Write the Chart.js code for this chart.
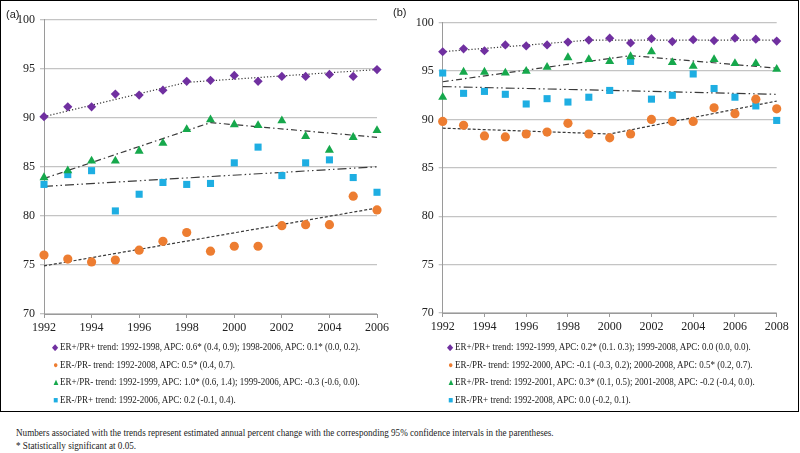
<!DOCTYPE html>
<html>
<head>
<meta charset="utf-8">
<script src="https://cdn.jsdelivr.net/npm/chart.js@4.4.1/dist/chart.umd.min.js"></script>
<style>
  html, body { margin: 0; padding: 0; background: #fff; }
  #page { position: relative; width: 800px; height: 453px; overflow: hidden; font-family: "Liberation Serif", "Times New Roman", serif; color: #222; }
  #frame { position: absolute; left: 0; top: 0; width: 799px; height: 412px; border: 1.5px solid #000; box-sizing: border-box; }
  .panel { position: absolute; top: 0; width: 400px; height: 345px; }
  .tag { position: absolute; font: 11px "Liberation Sans", Arial, sans-serif; color: #222; }
  .legend { position: absolute; top: 338px; font-size: 10px; white-space: nowrap; transform: scaleX(0.9); transform-origin: 0 0; }
  .legend div { height: 17.5px; line-height: 17.5px; }
  .legend .mk { display: inline-block; width: 8px; font-size: 9px; line-height: 10px; text-align: center; margin-right: 1px; }
  .note { position: absolute; left: 16px; top: 427px; font-size: 9.5px; line-height: 12.5px; white-space: nowrap; transform: scaleX(0.96); transform-origin: 0 0; }
</style>
</head>
<body>
<div id="page">
  <div id="frame"></div>
  <div class="panel" style="left:0"><canvas id="chartA" width="400" height="345"></canvas></div>
  <div class="panel" style="left:400px"><canvas id="chartB" width="400" height="345"></canvas></div>
  <div class="tag" style="left:6px;top:8px">(a)</div>
  <div class="tag" style="left:393px;top:6px">(b)</div>
  <div class="legend" id="legendA" style="left:52px"></div>
  <div class="legend" id="legendB" style="left:447px"></div>
  <div class="note">Numbers associated with the trends represent estimated annual percent change with the corresponding 95% confidence intervals in the parentheses.<br>* Statistically significant at 0.05.</div>
</div>
<script>
/* global Chart */

// ---- panel (a): 1992-2006 ----
const yearsA = [1992, 1993, 1994, 1995, 1996, 1997, 1998, 1999, 2000, 2001, 2002, 2003, 2004, 2005, 2006];
const erPosPrPosA = [90.1, 91.1, 91.1, 92.4, 92.3, 92.8, 93.7, 93.8, 94.3, 93.7, 94.2, 94.2, 94.4, 94.2, 94.9];
const erNegPrNegA = [76.0, 75.6, 75.3, 75.5, 76.5, 77.4, 78.3, 76.4, 76.9, 76.9, 79.0, 79.1, 79.1, 82.0, 80.6];
const erPosPrNegA = [83.9, 84.6, 85.6, 85.6, 86.6, 87.4, 88.8, 89.8, 89.3, 89.2, 89.7, 88.1, 86.7, 88.0, 88.7];
const erNegPrPosA = [83.2, 84.2, 84.6, 80.5, 82.2, 83.4, 83.2, 83.3, 85.4, 87.0, 84.1, 85.4, 85.7, 83.9, 82.4];

const trendYearsA = {
  ppos: [1992, 1998, 2006],
  nneg: [1992, 2006],
  pneg: [1992, 1999, 2006],
  npos: [1992, 2006],
};
const trendValuesA = {
  ppos: [90.1, 93.6, 94.9],
  nneg: [74.9, 80.8],
  pneg: [83.8, 89.5, 88.0],
  npos: [83.0, 85.0],
};

// ---- panel (b): 1992-2008 ----
const yearsB = [1992, 1993, 1994, 1995, 1996, 1997, 1998, 1999, 2000, 2001, 2002, 2003, 2004, 2005, 2006, 2007, 2008];
const erPosPrPosB = [97.0, 97.3, 97.1, 97.7, 97.6, 97.7, 98.0, 98.2, 98.4, 97.9, 98.35, 98.05, 98.25, 98.15, 98.4, 98.3, 98.1];
const erNegPrNegB = [89.8, 89.4, 88.3, 88.2, 88.5, 88.7, 89.6, 88.5, 88.1, 88.5, 90.0, 89.8, 89.8, 91.2, 90.6, 92.1, 91.1];
const erPosPrNegB = [92.3, 94.9, 94.9, 94.8, 95.0, 95.4, 96.4, 96.2, 96.0, 96.5, 97.0, 95.9, 95.5, 96.2, 95.8, 95.8, 95.2];
const erNegPrPosB = [94.8, 92.7, 92.9, 92.6, 91.6, 92.15, 91.8, 92.3, 93.0, 96.0, 92.1, 92.5, 94.7, 93.2, 92.3, 91.4, 89.9];

const trendYearsB = {
  ppos: [1992, 1999, 2008],
  nneg: [1992, 2000, 2008],
  pneg: [1992, 2001, 2008],
  npos: [1992, 2008],
};
const trendValuesB = {
  ppos: [97.0, 98.2, 98.2],
  nneg: [89.1, 88.5, 91.9],
  pneg: [93.9, 96.6, 95.3],
  npos: [93.4, 92.6],
};

const legendA = [
  "ER+/PR+ trend: 1992-1998, APC: 0.6* (0.4, 0.9); 1998-2006, APC: 0.1* (0.0, 0.2).",
  "ER-/PR- trend: 1992-2008, APC: 0.5* (0.4, 0.7).",
  "ER+/PR- trend: 1992-1999, APC: 1.0* (0.6, 1.4); 1999-2006, APC: -0.3 (-0.6, 0.0).",
  "ER-/PR+ trend: 1992-2006, APC: 0.2 (-0.1, 0.4).",
];
const legendB = [
  "ER+/PR+ trend: 1992-1999, APC: 0.2* (0.1. 0.3); 1999-2008, APC: 0.0 (0.0, 0.0).",
  "ER-/PR-  trend: 1992-2000, APC: -0.1 (-0.3, 0.2); 2000-2008, APC: 0.5* (0.2, 0.7).",
  "ER+/PR- trend: 1992-2001, APC: 0.3* (0.1, 0.5); 2001-2008, APC: -0.2 (-0.4, 0.0).",
  "ER-/PR+ trend: 1992-2008, APC: 0.0 (-0.2, 0.1).",
];

const PURPLE = "#7030a0";
const ORANGE = "#ed7d31";
const GREEN = "#16a84c";
const CYAN = "#1eaee2";

const markers = [
  { key: "ppos", color: PURPLE, style: "rectRot", radius: 4.6, glyph: "\u25C6", dash: [1.2, 2] },
  { key: "nneg", color: ORANGE, style: "circle", radius: 4.6, glyph: "\u25CF", dash: [3, 2] },
  { key: "pneg", color: GREEN, style: "triangle", radius: 5.2, glyph: "\u25B2", dash: [6, 3, 1.5, 3] },
  { key: "npos", color: CYAN, style: "rect", radius: 5, glyph: "\u25A0", dash: [9, 3, 1.5, 3, 1.5, 3] },
];

function toXY(xs, ys) {
  return xs.map((x, i) => ({ x: x, y: ys[i] }));
}

function buildLegend(el, texts) {
  el.innerHTML = "";
  texts.forEach((t, i) => {
    const row = document.createElement("div");
    const mk = document.createElement("span");
    mk.className = "mk";
    mk.style.color = markers[i].color;
    mk.textContent = markers[i].glyph;
    row.appendChild(mk);
    row.appendChild(document.createTextNode(t));
    el.appendChild(row);
  });
}

function makePanel(canvasId, years, seriesList, trendYears, trendValues, box) {
  const datasets = [];
  markers.forEach((m, i) => {
    datasets.push({
      data: toXY(years, seriesList[i]),
      showLine: false,
      pointStyle: m.style,
      pointRadius: m.radius,
      backgroundColor: m.color,
      borderColor: m.color,
      borderWidth: 0,
      clip: false,
      order: 0,
    });
  });
  markers.forEach((m) => {
    datasets.push({
      data: toXY(trendYears[m.key], trendValues[m.key]),
      showLine: true,
      pointRadius: 0,
      borderColor: "#3a3a3a",
      borderWidth: 1.2,
      borderDash: m.dash,
      fill: false,
      clip: false,
      order: 1,
    });
  });

  const tickFont = { family: "'Liberation Serif', 'Times New Roman', serif", size: 12 };

  return new Chart(document.getElementById(canvasId), {
    type: "scatter",
    data: { datasets: datasets },
    options: {
      responsive: false,
      animation: false,
      layout: { padding: { top: box.top, right: box.right, left: 0, bottom: 0 } },
      plugins: { legend: { display: false }, tooltip: { enabled: false } },
      scales: {
        x: {
          type: "linear",
          min: years[0],
          max: years[years.length - 1],
          afterFit: (s) => { s.height = box.xHeight; },
          ticks: { stepSize: 2, color: "#222", font: tickFont, padding: 3, maxRotation: 0, callback: (v) => String(v) },
          grid: { drawOnChartArea: false, drawTicks: true, tickLength: 4, color: "#9a9a9a" },
          border: { color: "#9a9a9a", width: 1 },
        },
        y: {
          min: 70,
          max: 100,
          afterFit: (s) => { s.width = box.yWidth; },
          ticks: { stepSize: 5, color: "#222", font: tickFont, padding: 5, callback: (v) => String(v) },
          grid: { color: "#c4c4c4", lineWidth: 1.3, tickLength: 4 },
          border: { color: "#9a9a9a", width: 1 },
        },
      },
    },
  });
}

window.addEventListener("DOMContentLoaded", () => {
  makePanel("chartA", yearsA, [erPosPrPosA, erNegPrNegA, erPosPrNegA, erNegPrPosA], trendYearsA, trendValuesA,
    { top: 19.5, right: 23, yWidth: 44, xHeight: 31 });
  makePanel("chartB", yearsB, [erPosPrPosB, erNegPrNegB, erPosPrNegB, erNegPrPosB], trendYearsB, trendValuesB,
    { top: 22.7, right: 23.3, yWidth: 42.7, xHeight: 32 });
  buildLegend(document.getElementById("legendA"), legendA);
  buildLegend(document.getElementById("legendB"), legendB);
});
</script>
</body>
</html>
